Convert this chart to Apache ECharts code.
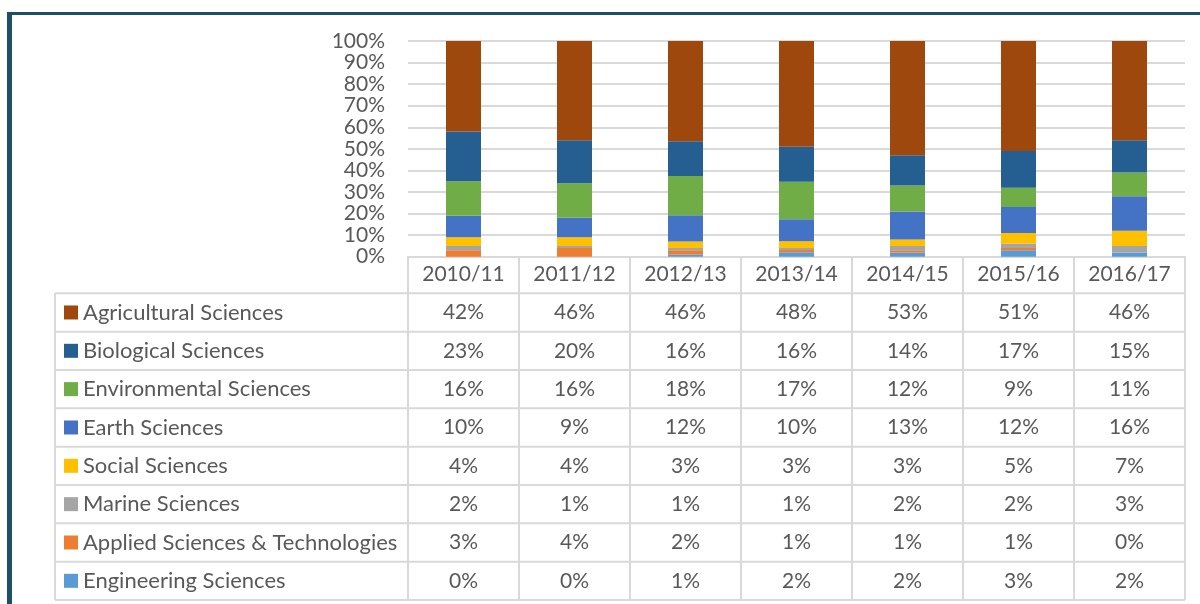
<!DOCTYPE html>
<html>
<head>
<meta charset="utf-8">
<script src="https://cdn.jsdelivr.net/npm/echarts@6/dist/echarts.min.js"></script>
<style>
  html, body { margin: 0; padding: 0; background: #fff; }
  #chart { width: 1200px; height: 604px; }
</style>
</head>
<body>
<div id="chart"></div>
<script>
const categories = ["2010/11", "2011/12", "2012/13", "2013/14", "2014/15", "2015/16", "2016/17"];
const agricultural = [42, 46, 46, 48, 53, 51, 46];
const biological = [23, 20, 16, 16, 14, 17, 15];
const environmental = [16, 16, 18, 17, 12, 9, 11];
const earth = [10, 9, 12, 10, 13, 12, 16];
const social = [4, 4, 3, 3, 3, 5, 7];
const marine = [2, 1, 1, 1, 2, 2, 3];
const applied = [3, 4, 2, 1, 1, 1, 0];
const engineering = [0, 0, 1, 2, 2, 3, 2];
const yTicks = [0, 10, 20, 30, 40, 50, 60, 70, 80, 90, 100];

// table order (top to bottom)
const subjects = [
  { name: "Agricultural Sciences", data: agricultural, color: "#9E480E" },
  { name: "Biological Sciences", data: biological, color: "#255E91" },
  { name: "Environmental Sciences", data: environmental, color: "#70AD47" },
  { name: "Earth Sciences", data: earth, color: "#4472C4" },
  { name: "Social Sciences", data: social, color: "#FFC000" },
  { name: "Marine Sciences", data: marine, color: "#A5A5A5" },
  { name: "Applied Sciences & Technologies", data: applied, color: "#ED7D31" },
  { name: "Engineering Sciences", data: engineering, color: "#5B9BD5" },
];

const totals = categories.map((c, j) =>
  subjects.reduce((s, sub) => s + sub.data[j], 0)
);

const FONT = "Lato";
const TEXT = "#595959";
const LINE = "#D9D9D9";
const gridTop = 41, gridBottomY = 256.7, tableLeft = 55, tableBottom = 600;
const rowTop = 293.3;
const rowH = (tableBottom - rowTop) / subjects.length;

let chart = echarts.init(document.getElementById("chart"));

// stacked bottom-up: reverse the table order
let series = subjects.slice().reverse().map((sub) => {
  return {
    name: sub.name,
    type: "bar",
    stack: "total",
    barWidth: 35,
    itemStyle: { color: sub.color },
    emphasis: { disabled: true },
    data: sub.data.map((v, j) => (v / totals[j]) * 100),
  };
});

let option = {
  animation: false,
  grid: {
    left: 408,
    right: 15,
    top: gridTop,
    height: gridBottomY - gridTop,
  },
  xAxis: {
    type: "category",
    data: categories,
    axisLine: { lineStyle: { color: LINE, width: 2 } },
    axisTick: {
      show: true,
      length: tableBottom - gridBottomY,
      lineStyle: { color: LINE, width: 2 },
    },
    axisLabel: {
      color: TEXT,
      fontFamily: FONT,
      fontSize: 21,
      margin: 7,
    },
  },
  yAxis: {
    type: "value",
    min: yTicks[0],
    max: yTicks[yTicks.length - 1],
    interval: 10,
    axisLine: { show: false },
    axisTick: { show: false },
    axisLabel: {
      color: TEXT,
      fontFamily: FONT,
      fontSize: 21,
      margin: 23,
      formatter: "{value}%",
    },
    splitLine: { lineStyle: { color: LINE, width: 2 } },
  },
  series: series,
};
chart.setOption(option);

// data table under the chart
let graphics = [];
// frame around the figure
graphics.push({
  type: "line",
  shape: { x1: 7, y1: 13.5, x2: 1200, y2: 13.5 },
  style: { stroke: "#1F4E68", lineWidth: 3 },
});
graphics.push({
  type: "line",
  shape: { x1: 9.5, y1: 12, x2: 9.5, y2: 604 },
  style: { stroke: "#1F4E68", lineWidth: 5 },
});
// row lines
for (let i = 0; i <= subjects.length; i++) {
  let y = rowTop + rowH * i;
  graphics.push({
    type: "line",
    shape: { x1: tableLeft, y1: y, x2: 1185, y2: y },
    style: { stroke: LINE, lineWidth: 2 },
  });
}
graphics.push({
  type: "line",
  shape: { x1: tableLeft, y1: rowTop, x2: tableLeft, y2: tableBottom },
  style: { stroke: LINE, lineWidth: 2 },
});
subjects.forEach((sub, i) => {
  let cy = rowTop + rowH * (i + 0.5);
  graphics.push({
    type: "rect",
    shape: { x: 64, y: cy - 7, width: 14, height: 14 },
    style: { fill: sub.color },
  });
  graphics.push({
    type: "text",
    x: 83,
    y: cy,
    style: {
      text: sub.name,
      fill: TEXT,
      font: "22px " + FONT,
      verticalAlign: "middle",
      align: "left",
    },
  });
  categories.forEach((c, j) => {
    let cx = chart.convertToPixel({ xAxisIndex: 0 }, j);
    graphics.push({
      type: "text",
      x: cx,
      y: cy,
      style: {
        text: sub.data[j] + "%",
        fill: TEXT,
        font: "21px " + FONT,
        verticalAlign: "middle",
        align: "center",
      },
    });
  });
});
chart.setOption({ graphic: graphics });
</script>
</body>
</html>
